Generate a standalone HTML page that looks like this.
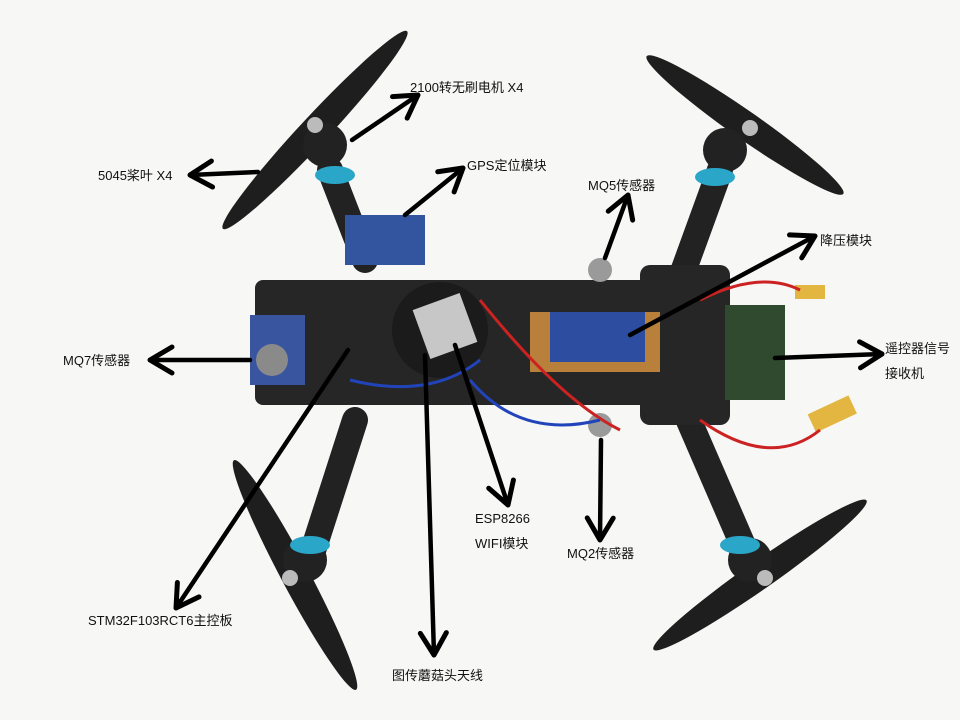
<!DOCTYPE html>
<html><head><meta charset="utf-8"><style>
html,body{margin:0;padding:0;background:#f7f7f6;}
svg{display:block}
text{font-family:"Liberation Sans","Noto Sans CJK SC",sans-serif;font-size:13px;fill:#111}
</style></head><body>
<svg width="960" height="720" viewBox="0 0 960 720" xmlns="http://www.w3.org/2000/svg">
<defs>
<marker id="ah" markerUnits="userSpaceOnUse" markerWidth="40" markerHeight="40" refX="30" refY="20" orient="auto">
<polyline points="8,7 30,20 8,33" fill="none" stroke="#000" stroke-width="5" stroke-linecap="round" stroke-linejoin="round"/>
</marker>
</defs>
<rect width="960" height="720" fill="#f7f7f6"/>
<!-- arms -->
<g stroke="#222" stroke-width="26" stroke-linecap="round">
<line x1="330" y1="170" x2="365" y2="260"/>
<line x1="720" y1="170" x2="680" y2="280"/>
<line x1="355" y1="420" x2="310" y2="560"/>
<line x1="680" y1="400" x2="745" y2="550"/>
</g>
<!-- body -->
<rect x="255" y="280" width="430" height="125" rx="8" fill="#262626"/>
<rect x="640" y="265" width="90" height="160" rx="10" fill="#262626"/>
<rect x="725" y="305" width="60" height="95" fill="#2f4a2f"/>
<rect x="250" y="315" width="55" height="70" fill="#3a55a0"/>
<circle cx="272" cy="360" r="16" fill="#8a8a8a"/>
<rect x="530" y="312" width="130" height="60" fill="#b9803c"/>
<rect x="550" y="312" width="95" height="50" fill="#2c4da0"/>
<circle cx="440" cy="330" r="48" fill="#1b1b1b"/>
<rect x="420" y="300" width="50" height="52" transform="rotate(-20 445 326)" fill="#c7c7c7"/>
<rect x="345" y="215" width="80" height="50" fill="#3355a0"/>
<circle cx="600" cy="270" r="12" fill="#9a9a9a"/>
<circle cx="600" cy="425" r="12" fill="#9a9a9a"/>
<rect x="810" y="405" width="45" height="20" transform="rotate(-25 830 415)" fill="#e2b640"/>
<rect x="795" y="285" width="30" height="14" fill="#e2b640"/>
<g stroke="#c22" stroke-width="3" fill="none">
<path d="M480 300 Q560 400 620 430"/><path d="M700 300 Q760 270 800 290"/><path d="M700 420 Q770 470 820 430"/>
</g>
<g stroke="#2244bb" stroke-width="3" fill="none"><path d="M350 380 Q430 400 480 360"/><path d="M470 380 Q520 440 600 420"/></g>
<!-- props -->
<g fill="#1e1e1e">
<ellipse cx="315" cy="130" rx="135" ry="14" transform="rotate(-47 315 130)"/>
<ellipse cx="745" cy="125" rx="120" ry="14" transform="rotate(35 745 125)"/>
<ellipse cx="295" cy="575" rx="130" ry="14" transform="rotate(62 295 575)"/>
<ellipse cx="760" cy="575" rx="130" ry="14" transform="rotate(-35 760 575)"/>
</g>
<g fill="#222"><circle cx="325" cy="145" r="22"/><circle cx="725" cy="150" r="22"/><circle cx="305" cy="560" r="22"/><circle cx="750" cy="560" r="22"/></g>
<g fill="#2aa6c8"><ellipse cx="335" cy="175" rx="20" ry="9"/><ellipse cx="715" cy="177" rx="20" ry="9"/><ellipse cx="310" cy="545" rx="20" ry="9"/><ellipse cx="740" cy="545" rx="20" ry="9"/></g>
<g fill="#bbb"><circle cx="315" cy="125" r="8"/><circle cx="750" cy="128" r="8"/><circle cx="290" cy="578" r="8"/><circle cx="765" cy="578" r="8"/></g>
<!-- arrows -->
<g stroke="#000" stroke-width="4.5" fill="none" marker-end="url(#ah)" stroke-linecap="round">
<line x1="352" y1="140" x2="418" y2="95"/>
<line x1="258" y1="172" x2="190" y2="175"/>
<line x1="405" y1="215" x2="463" y2="168"/>
<line x1="605" y1="258" x2="628" y2="195"/>
<line x1="630" y1="335" x2="815" y2="236"/>
<line x1="775" y1="358" x2="882" y2="354"/>
<line x1="250" y1="360" x2="150" y2="360"/>
<line x1="455" y1="345" x2="508" y2="505"/>
<line x1="601" y1="440" x2="600" y2="540"/>
<line x1="348" y1="350" x2="176" y2="608"/>
<line x1="425" y1="355" x2="434" y2="655"/>
</g>
<!-- labels -->
<text x="410" y="92">2100转无刷电机 X4</text>
<text x="98" y="180">5045桨叶 X4</text>
<text x="467" y="170">GPS定位模块</text>
<text x="588" y="190">MQ5传感器</text>
<text x="820" y="245">降压模块</text>
<text x="885" y="353">遥控器信号</text>
<text x="885" y="378">接收机</text>
<text x="63" y="365">MQ7传感器</text>
<text x="475" y="523">ESP8266</text>
<text x="475" y="548">WIFI模块</text>
<text x="567" y="558">MQ2传感器</text>
<text x="88" y="625">STM32F103RCT6主控板</text>
<text x="392" y="680">图传蘑菇头天线</text>
</svg>
</body></html>
